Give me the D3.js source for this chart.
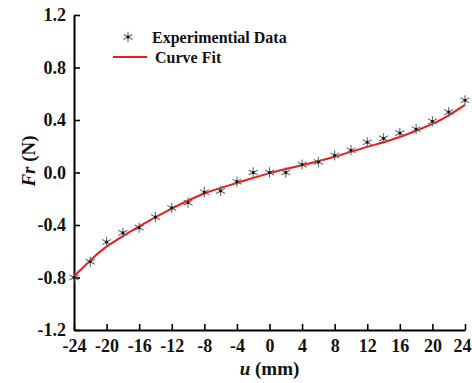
<!DOCTYPE html>
<html>
<head>
<meta charset="utf-8">
<script src="https://cdn.jsdelivr.net/npm/d3@7"></script>
<style>
  body { margin: 0; background: #fff; }
  text { font-family: "Liberation Serif", "Times New Roman", serif; font-weight: bold; }
</style>
</head>
<body>
<div id="chart"></div>
<script>
const dispU = [-24, -22, -20, -18, -16, -14, -12, -10, -8, -6, -4, -2, 0, 2, 4, 6, 8, 10, 12, 14, 16, 18, 20, 22, 24];
const forceFr = [-0.80, -0.68, -0.53, -0.46, -0.42, -0.34, -0.27, -0.23, -0.15, -0.14, -0.07, 0.00, 0.00, 0.00, 0.06, 0.08, 0.13, 0.17, 0.23, 0.26, 0.30, 0.33, 0.39, 0.46, 0.55];

// fitted curve, sampled from the figure
const fitU = [-24, -22, -20, -16, -12, -8, -4, 0, 4, 8, 12, 16, 20, 22, 24];
const fitFr = [-0.79, -0.67, -0.565, -0.41, -0.275, -0.16, -0.08, -0.005, 0.055, 0.12, 0.195, 0.27, 0.37, 0.435, 0.515];

const xTicks = [-24, -20, -16, -12, -8, -4, 0, 4, 8, 12, 16, 20, 24];
const yTicks = [-1.2, -0.8, -0.4, 0.0, 0.4, 0.8, 1.2];

const width = 472, height = 383;
const plotLeft = 74, plotRight = 465, plotTop = 15, plotBottom = 330;

const svg = d3.select("#chart").append("svg")
  .attr("width", width)
  .attr("height", height);

const x = d3.scaleLinear().domain([-24, 24]).range([plotLeft, plotRight]);
const y = d3.scaleLinear().domain([-1.2, 1.2]).range([plotBottom, plotTop]);

// axes, ticks pointing inward
const xAxis = d3.axisBottom(x).tickValues(xTicks).tickSizeInner(-6).tickSizeOuter(0).tickPadding(9.5)
  .tickFormat(d => String(d));
const yAxis = d3.axisLeft(y).tickValues(yTicks).tickSizeInner(-6).tickSizeOuter(0).tickPadding(8)
  .tickFormat(d => d.toFixed(1));

const gx = svg.append("g").attr("transform", `translate(0,${plotBottom})`).call(xAxis);
const gy = svg.append("g").attr("transform", `translate(${plotLeft},0)`).call(yAxis);

[gx, gy].forEach(g => {
  g.select(".domain").attr("stroke", "#000").attr("stroke-width", 2);
  g.selectAll(".tick line").attr("stroke", "#000").attr("stroke-width", 1.6);
  g.selectAll(".tick text")
    .attr("fill", "#111")
    .style("font-family", "'Liberation Serif', serif")
    .style("font-weight", "bold")
    .style("font-size", "18px");
});
// last x label sits at the page edge, keep it inside
gx.selectAll(".tick text").filter(d => d === 24).attr("dx", "-3");

// curve fit
const line = d3.line()
  .x((d, i) => x(fitU[i]))
  .y(d => y(d))
  .curve(d3.curveNatural);

svg.append("path")
  .datum(fitFr)
  .attr("d", line)
  .attr("fill", "none")
  .attr("stroke", "#f01818")
  .attr("stroke-width", 2);

// asterisk markers
const star = d3.symbol().type(d3.symbolAsterisk).size(75);
function drawMarker(g) {
  g.append("path").attr("d", star).attr("fill", "none").attr("stroke", "#6a6a6a").attr("stroke-width", 1.1);
  g.append("rect").attr("x", -1.3).attr("y", -1.3).attr("width", 2.6).attr("height", 2.6).attr("fill", "#111");
}

svg.append("g").selectAll("g")
  .data(forceFr)
  .join("g")
  .attr("transform", (d, i) => `translate(${x(dispU[i])},${y(d)})`)
  .each(function () { drawMarker(d3.select(this)); });

// legend
const legend = svg.append("g");
drawMarker(legend.append("g").attr("transform", "translate(128,37)"));
legend.append("text").attr("x", 152).attr("y", 42.5)
  .style("font-size", "16px").attr("fill", "#111")
  .text("Experimential Data");
legend.append("line").attr("x1", 113).attr("x2", 147).attr("y1", 57).attr("y2", 57)
  .attr("stroke", "#f01818").attr("stroke-width", 2);
legend.append("text").attr("x", 155).attr("y", 63)
  .style("font-size", "16px").attr("fill", "#111")
  .text("Curve Fit");

// axis titles
const xt = svg.append("text").attr("x", (plotLeft + plotRight) / 2).attr("y", 375)
  .attr("text-anchor", "middle").style("font-size", "19px").attr("fill", "#111");
xt.append("tspan").style("font-style", "italic").text("u");
xt.append("tspan").text(" (mm)");

const yt = svg.append("text").attr("transform", "translate(35,161) rotate(-90)")
  .attr("text-anchor", "middle").style("font-size", "19px").attr("fill", "#111");
yt.append("tspan").style("font-style", "italic").text("Fr");
yt.append("tspan").text(" (N)");
</script>
</body>
</html>
